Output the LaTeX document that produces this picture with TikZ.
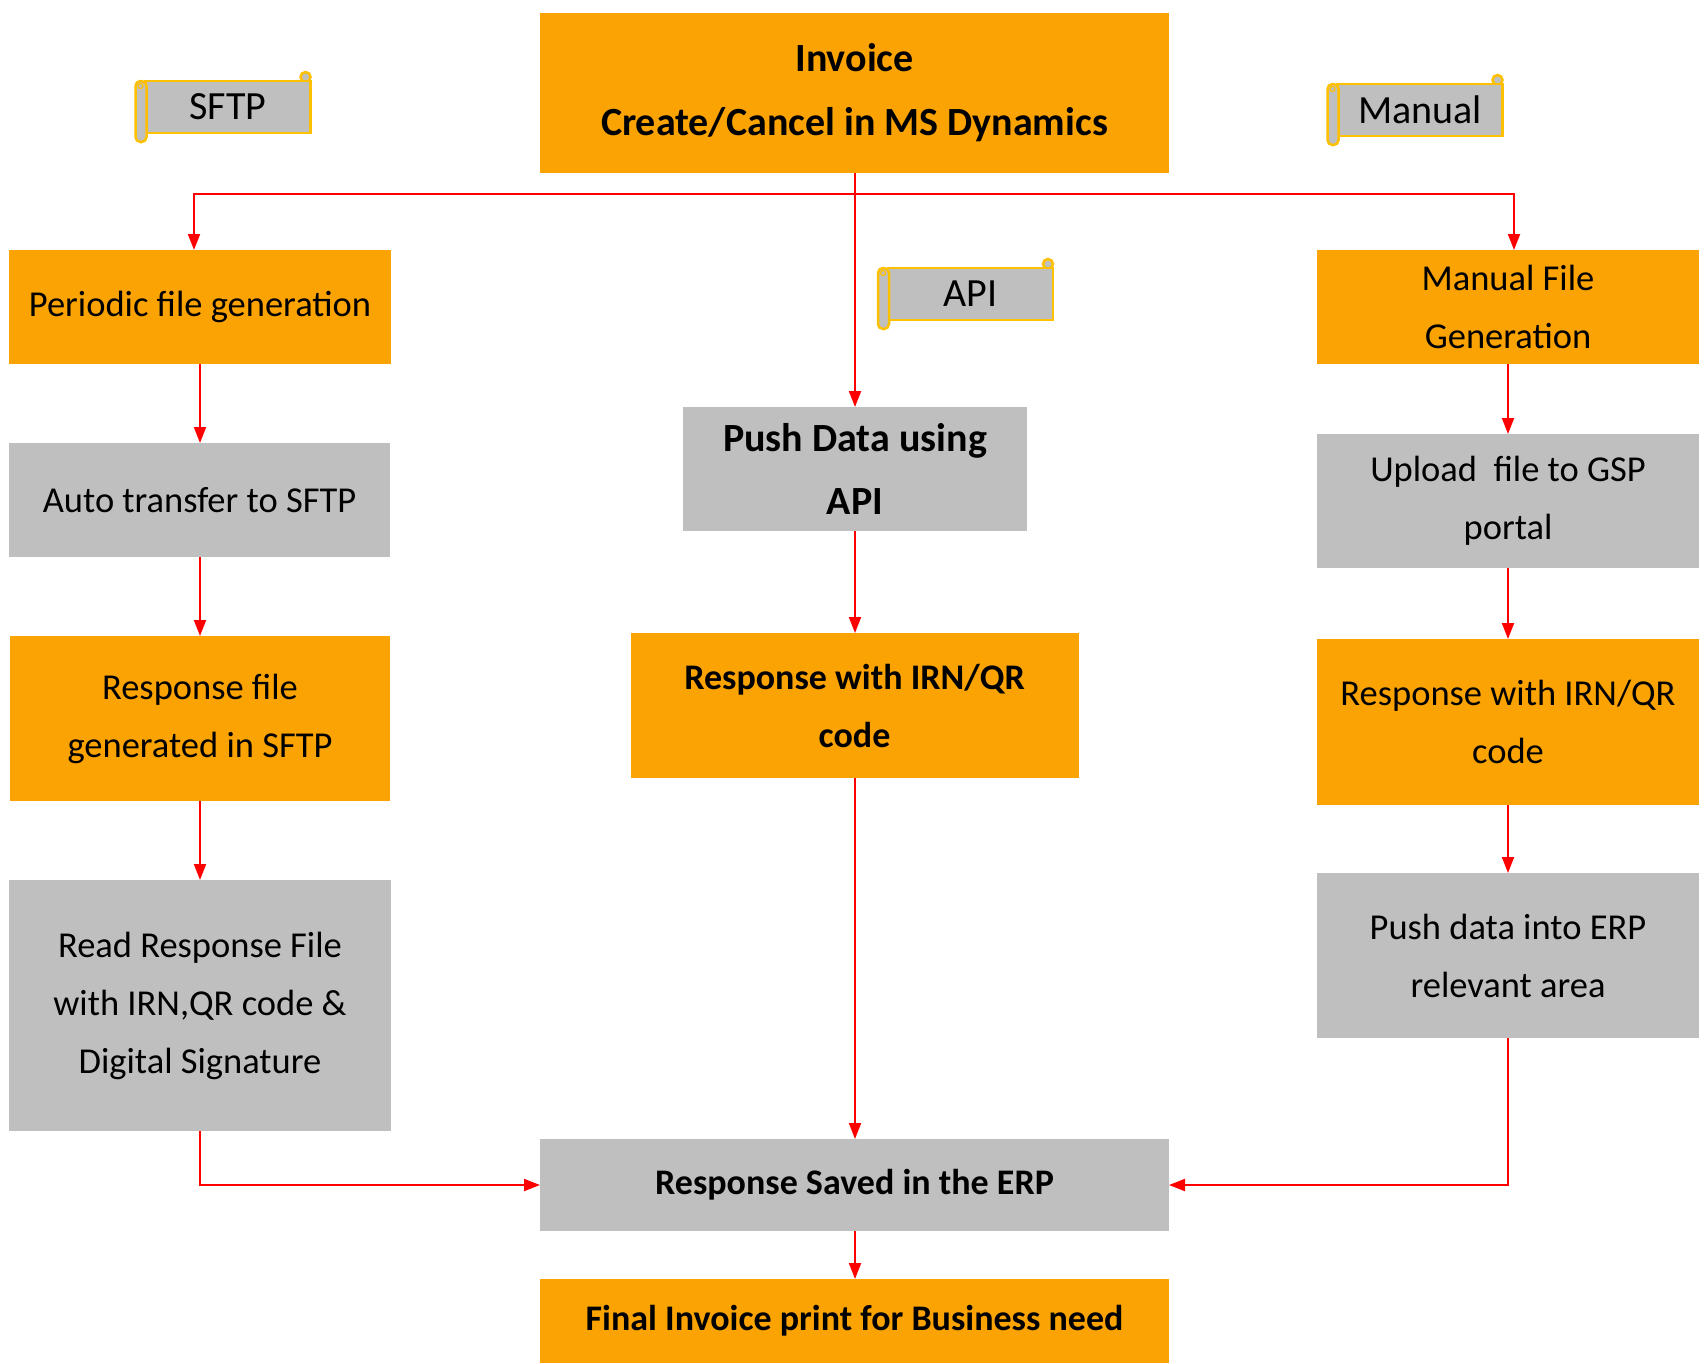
\documentclass[tikz,border=0pt]{standalone}
\usepackage{fontspec}
\setmainfont{Carlito}
\usetikzlibrary{arrows.meta,calc}
\definecolor{org}{HTML}{FAA302}
\definecolor{gry}{HTML}{BFBFBF}
\definecolor{scr}{HTML}{FFC000}
\definecolor{lnk}{HTML}{FF0000}
\newcommand\myscroll[4]{%
  \coordinate (#1curl) at ($(#2,#3)+(77.5,-30)$);
  \draw[scrl, fill=gry] (#1curl) circle (5);
  \node[scrollbody] (#1) at (#2,#3) {#4};
  \draw[scrl, fill=gry, rounded corners=5] ([shift={(-10,0)}]#1.north west) rectangle ([shift={(1,9)}]#1.south west);
  \draw[scrl, line width=1.2pt] ([shift={(-5,5)}]#1.north west) circle (2.5);
}
\begin{document}
\begin{tikzpicture}[x=1pt,y=-1pt,
  base/.style={inner sep=0pt, outer sep=0pt, align=center, font=\fontsize{36.5}{58}\selectfont},
  obox/.style={base, fill=org},
  gbox/.style={base, fill=gry},
  bld/.style={font=\fontsize{36}{58}\selectfont\bfseries},
  scrollbody/.style={inner sep=0pt, outer sep=0pt, draw=scr, line width=2.5pt, fill=gry, minimum width=165pt, minimum height=52pt, font=\fontsize{40}{42}\selectfont},
  scrl/.style={draw=scr, line width=2.5pt},
  arr/.style={draw=lnk, line width=2pt, -{Triangle[length=16pt,width=12pt]}}
]
\useasboundingbox (0,0) rectangle (1707,1363);
\fill[white] (0,0) rectangle (1707,1363);

% main boxes
\node[obox, minimum width=629pt, minimum height=160pt, font=\fontsize{40}{64}\selectfont\bfseries] (inv) at (854.5,93) {Invoice\\Create/Cancel in MS Dynamics};
\node[obox, minimum width=382pt, minimum height=114pt] (per) at (200,307) {Periodic file generation};
\node[gbox, minimum width=381pt, minimum height=114pt] (auto) at (199.5,500) {Auto transfer to SFTP};
\node[obox, minimum width=380pt, minimum height=165pt] (rf) at (200,718.5) {Response file\\generated in SFTP};
\node[gbox, minimum width=382pt, minimum height=251pt] (read) at (200,1005.5) {Read Response File\\with IRN,QR code \&\\Digital Signature};

\node[gbox, minimum width=344pt, minimum height=124pt, font=\fontsize{40}{63}\selectfont\bfseries] (push) at (855,469) {Push Data using\\API};
\node[obox, bld, minimum width=448pt, minimum height=145pt] (rc) at (854.5,705.5) {Response with IRN/QR\\code};

\node[obox, minimum width=382pt, minimum height=114pt] (man) at (1508,307) {Manual File\\Generation};
\node[gbox, minimum width=382pt, minimum height=134pt] (up) at (1508,501) {Upload\ \ file to GSP\\portal};
\node[obox, minimum width=382pt, minimum height=166pt] (rr) at (1508,722) {Response with IRN/QR\\code};
\node[gbox, minimum width=382pt, minimum height=165pt] (perp) at (1508,955.5) {Push data into ERP\\relevant area};

\node[gbox, bld, minimum width=629pt, minimum height=92pt] (saved) at (854.5,1185) {Response Saved in the ERP};
\node[obox, bld, minimum width=629pt, minimum height=84pt] (fin) at (854.5,1321) {Final Invoice print for Business need};

% scroll labels
\myscroll{sftp}{228}{107}{SFTP}
\myscroll{api}{970.5}{294}{API}
\myscroll{mnl}{1420}{110}{Manual}

% connectors
\coordinate (jl) at (194,194);
\coordinate (jr) at (1514,194);
\draw[arr] (inv.south -| push.north) -- (push.north);
\draw[arr] (inv.south -| push.north) |- (jl) -- ([xshift=-6pt]per.north);
\draw[arr] (inv.south -| push.north) |- (jr) -- ([xshift=6pt]man.north);

\draw[arr] (per.south) -- (auto.north -| per.south);
\draw[arr] (auto.south -| per.south) -- (rf.north -| per.south);
\draw[arr] (rf.south) -- (read.north);

\draw[arr] (push.south) -- (rc.north -| push.south);
\draw[arr] (rc.south -| push.south) -- (saved.north -| push.south);
\draw[arr] (saved.south -| push.south) -- (fin.north -| push.south);

\draw[arr] (man.south) -- (up.north);
\draw[arr] (up.south) -- (rr.north);
\draw[arr] (rr.south) -- (perp.north);

\draw[arr] (read.south) |- (saved.west);
\draw[arr] (perp.south) |- (saved.east);
\end{tikzpicture}
\end{document}
